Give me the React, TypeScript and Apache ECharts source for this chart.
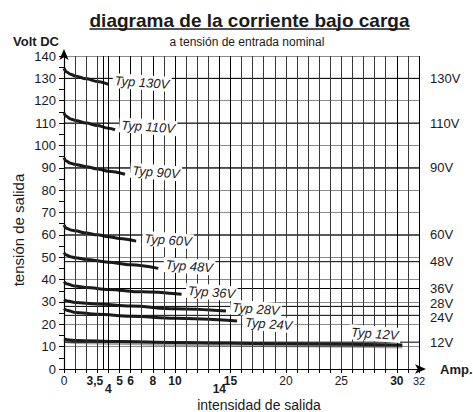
import React, { useEffect, useRef } from "react";
import * as echarts from "echarts";

// ---- data ----
const curve130: [number, number][] = [[0, 134.5], [0.2, 133], [0.6, 131.8], [1, 131.1], [2, 129.8], [3, 128.6], [4, 127.3]];
const curve110: [number, number][] = [[0, 114.5], [0.2, 113], [0.6, 111.8], [1, 111.2], [2, 110], [3, 108.9], [4, 107.7], [4.6, 107]];
const curve90: [number, number][] = [[0, 94.5], [0.2, 93], [0.6, 92], [1, 91.5], [2, 90.5], [3, 89.5], [4, 88.5], [5.5, 87.1]];
const curve60: [number, number][] = [[0, 64.5], [0.2, 63], [0.6, 62.2], [1, 61.8], [2, 60.8], [3, 60], [4, 59.2], [5, 58.4], [6.5, 57.2]];
const curve48: [number, number][] = [[0, 52], [0.2, 51], [0.6, 50.2], [1, 49.8], [2, 49], [4, 47.8], [6, 46.6], [8.5, 45]];
const curve36: [number, number][] = [[0, 39], [0.3, 38], [1, 37.1], [2, 36.5], [4, 35.6], [7, 34.5], [10.6, 33.4]];
const curve28: [number, number][] = [[0, 31], [0.3, 30.4], [1, 29.8], [3, 29.1], [6, 28.2], [10, 26.9], [14.6, 25.9]];
const curve24: [number, number][] = [[0, 27], [0.3, 26.2], [1, 25.3], [3, 24.5], [6, 23.6], [10, 22.7], [15.6, 21.5]];
const curve12: [number, number][] = [[0, 13.5], [0.5, 13], [1, 12.8], [5, 12.3], [10, 11.9], [20, 11.3], [30.5, 10.7]];

const curveNames = ["Typ 130V", "Typ 110V", "Typ 90V", "Typ 60V", "Typ 48V", "Typ 36V", "Typ 28V", "Typ 24V", "Typ 12V"];
const ratedVoltages = [130, 110, 90, 60, 48, 36, 28, 24, 12];
const ratedLabels = ["130V", "110V", "90V", "60V", "48V", "36V", "28V", "24V", "12V"];
const ratedLineEnd = 32.5;

const xGridValues = [1, 2, 3, 3.5, 4, 5, 6, 7, 8, 9, 10, 11, 12, 13, 14, 15, 16, 17, 18, 19, 20, 21, 22, 23, 24, 25, 26, 27, 28, 29, 30, 31, 32];
const xStrongLines = [3.5, 4, 5, 6, 8, 10, 14, 15, 30, 32];

const xLabelValues = [0, 3.5, 5, 6, 8, 10, 15, 20, 25, 30, 32];
const xLabelTexts = ["0", "3,5", "5", "6", "8", "10", "15", "20", "25", "30", "32"];
const xLabelStyles = ["n", "bl", "b", "b", "b", "b", "b", "n", "n", "b", "s"];
const xLowerValues = [4, 14];
const xLowerTexts = ["4", "14"];

const FONT = "Liberation Sans, Arial, Helvetica, sans-serif";
const INK = "#1a1a1a";

const curves = [curve130, curve110, curve90, curve60, curve48, curve36, curve28, curve24, curve12];
const labelOffsets: [number, number][] = [[0, -4], [0, -5], [1, -4], [2, -3], [1, -4], [0, -4], [0, -4], [2, 1], [-28, 2]];

export default function App() {
  const ref = useRef<HTMLDivElement>(null);
  useEffect(() => {
    if (!ref.current) return;
    const chart = echarts.init(ref.current, undefined, { renderer: "svg" });

    const titleText = "diagrama de la corriente bajo carga";
    let titleW = 320;
    try {
      const c = document.createElement("canvas").getContext("2d");
      if (c) {
        c.font = `bold 19px ${FONT}`;
        titleW = c.measureText(titleText).width;
      }
    } catch (e) {}
    const titleCx = 249.5;

    const gridSeries: any = {
      type: "line",
      data: [[0, 0]],
      showSymbol: false,
      silent: true,
      clip: false,
      z: 1,
      lineStyle: { opacity: 0 },
      markLine: {
        silent: true,
        symbol: "none",
        animation: false,
        label: { show: false },
        data: xGridValues.map((v) => ({
          xAxis: v,
          lineStyle: { color: xStrongLines.includes(v) ? "#000" : "#383838", width: 1, type: "solid" },
        })),
      },
    };

    const ratedSeries = ratedVoltages.map((v, i) => ({
      type: "line",
      data: [
        { value: [0, v], label: { show: false } },
        {
          value: [ratedLineEnd, v],
          label: {
            show: true,
            position: "right",
            distance: 5,
            formatter: ratedLabels[i],
            color: INK,
            fontSize: 13,
            lineHeight: 11,
            fontFamily: FONT,
            offset: ratedLabels[i] === "28V" ? [0, -3] : ratedLabels[i] === "24V" ? [0, 2] : [0, 0],
          },
        },
      ],
      clip: false,
      silent: true,
      symbol: "circle",
      symbolSize: 1,
      showSymbol: true,
      showAllSymbol: true,
      itemStyle: { color: "rgba(0,0,0,0)", borderWidth: 0 },
      z: 2,
      lineStyle: { color: "#000", width: 1 },
    }));

    const curveSeries = curves.map((pts, i) => {
      const last = pts[pts.length - 1];
      const is12 = i === curves.length - 1;
      return {
        type: "line",
        data: pts,
        smooth: 0.35,
        smoothMonotone: "x",
        symbol: "none",
        z: 3,
        silent: true,
        lineStyle: is12
          ? { color: INK, width: 3, shadowColor: "rgba(0,0,0,0.35)", shadowBlur: 1, shadowOffsetY: 2 }
          : { color: INK, width: 3 },
        markPoint: {
          symbol: "circle",
          symbolSize: 0,
          silent: true,
          animation: false,
          data: [
            {
              coord: last,
              label: {
                show: true,
                position: is12 ? "top" : "right",
                distance: 4,
                offset: labelOffsets[i],
                formatter: curveNames[i],
                fontStyle: "italic",
                fontSize: 13,
                fontFamily: FONT,
                color: INK,
                backgroundColor: "#fff",
                padding: [1, 2],
                rotate: -4,
              },
            },
          ],
        },
      };
    });

    const labelMap: Record<string, string> = {};
    xLabelValues.forEach((v, i) => {
      labelMap[String(v)] = `{${xLabelStyles[i]}|${xLabelTexts[i]}}`;
    });
    const lowerMap: Record<string, string> = {};
    xLowerValues.forEach((v, i) => {
      lowerMap[String(v)] = `{b|${xLowerTexts[i]}}`;
    });
    const rich = {
      n: { fontSize: 12, fontFamily: FONT, color: INK },
      b: { fontSize: 12, fontWeight: "bold", fontFamily: FONT, color: INK },
      bl: { fontSize: 12, fontWeight: "bold", fontFamily: FONT, color: INK, padding: [0, 16, 0, 0] },
      s: { fontSize: 11, fontFamily: FONT, color: INK },
    };

    chart.setOption({
      animation: false,
      textStyle: { fontFamily: FONT },
      grid: { left: 64, right: 54, top: 56, bottom: 43, containLabel: false },
      xAxis: [
        {
          type: "value",
          min: 0,
          max: 32,
          interval: 1,
          axisLine: {
            show: true,
            lineStyle: { color: "#000", width: 1.2 },
            symbol: ["none", "arrow"],
            symbolSize: [7, 11],
            symbolOffset: [0, 7],
          },
          axisTick: { show: true, length: 4, lineStyle: { color: "#000" } },
          splitLine: { show: false },
          axisLabel: {
            show: true,
            margin: 6,
            customValues: xLabelValues,
            formatter: (v: number) => labelMap[String(v)] ?? "",
            rich,
          },
        },
        {
          type: "value",
          min: 0,
          max: 32,
          position: "bottom",
          offset: 8,
          axisLine: { show: false },
          axisTick: { show: false },
          splitLine: { show: false },
          axisLabel: {
            show: true,
            margin: 6,
            customValues: xLowerValues,
            formatter: (v: number) => lowerMap[String(v)] ?? "",
            rich,
          },
        },
      ],
      yAxis: {
        type: "value",
        min: 0,
        max: 140,
        interval: 10,
        axisLine: {
          show: true,
          lineStyle: { color: "#000", width: 1.2 },
          symbol: ["none", "arrow"],
          symbolSize: [7, 11],
          symbolOffset: [0, 7],
        },
        axisTick: { show: true, length: 5, lineStyle: { color: "#000" } },
        minorTick: { show: true, splitNumber: 2, length: 5, lineStyle: { color: "#000" } },
        splitLine: { show: true, lineStyle: { color: "#8a8a8a", width: 1 } },
        axisLabel: { fontSize: 13, fontFamily: FONT, color: INK, margin: 8 },
      },
      series: [gridSeries, ...ratedSeries, ...curveSeries],
      graphic: [
        {
          type: "text",
          x: titleCx,
          y: 20,
          style: { text: titleText, fontSize: 19, fontWeight: "bold", fontFamily: FONT, fill: INK, align: "center", verticalAlign: "middle" },
        },
        {
          type: "line",
          shape: { x1: titleCx - titleW / 2, y1: 29, x2: titleCx + titleW / 2, y2: 29 },
          style: { stroke: INK, lineWidth: 1.5 },
        },
        {
          type: "text",
          x: 247,
          y: 42,
          style: { text: "a tensión de entrada nominal", fontSize: 12, fontFamily: FONT, fill: INK, align: "center", verticalAlign: "middle" },
        },
        {
          type: "text",
          x: 13,
          y: 41.5,
          style: { text: "Volt DC", fontSize: 13, lineHeight: 11, fontWeight: "bold", fontFamily: FONT, fill: INK, align: "left", verticalAlign: "middle" },
        },
        {
          type: "text",
          x: 18,
          y: 230,
          rotation: Math.PI / 2,
          style: { text: "tensión de salida", fontSize: 15, fontFamily: FONT, fill: INK, align: "center", verticalAlign: "middle" },
        },
        {
          type: "text",
          x: 259,
          y: 404.5,
          style: { text: "intensidad de salida", fontSize: 14, fontFamily: FONT, fill: INK, align: "center", verticalAlign: "middle" },
        },
        {
          type: "text",
          x: 440,
          y: 369,
          style: { text: "Amp.", fontSize: 13, fontWeight: "bold", fontFamily: FONT, fill: INK, align: "left", verticalAlign: "middle" },
        },
      ],
    });

    return () => chart.dispose();
  }, []);

  return (
    <div
      ref={ref}
      style={{ position: "fixed", left: 0, top: 0, width: 473, height: 412, background: "#fff" }}
    />
  );
}
